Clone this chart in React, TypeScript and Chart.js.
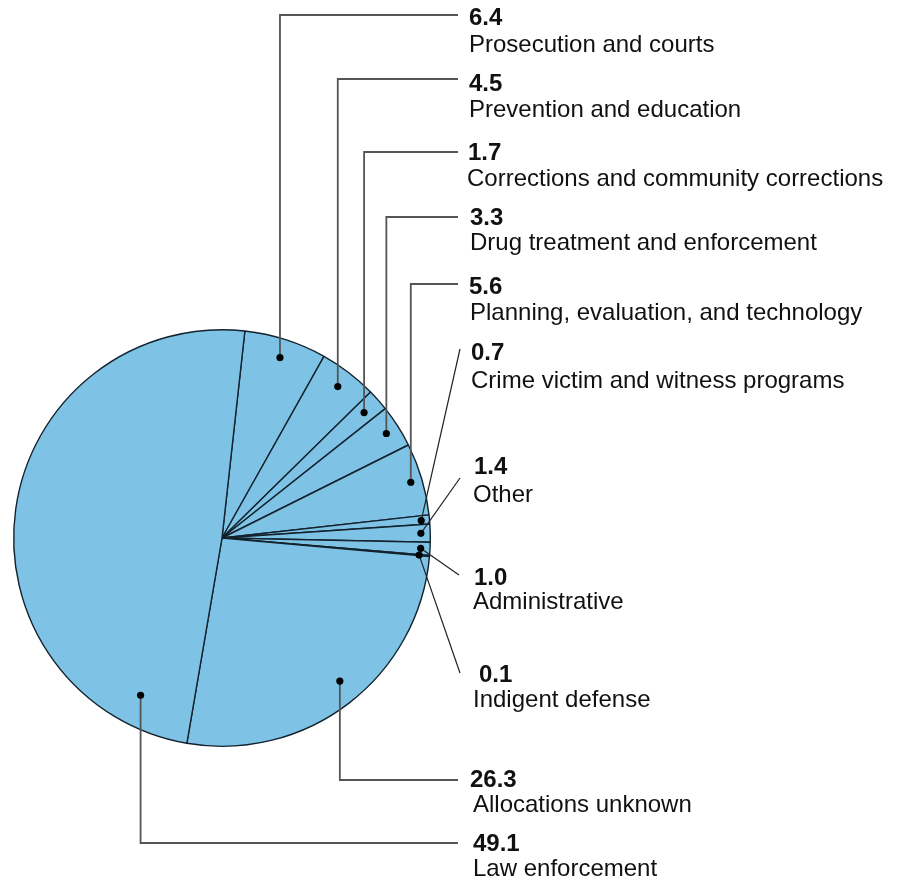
import React, { useEffect, useRef } from "react";
import { Chart, registerables } from "chart.js";

Chart.register(...registerables);

const categories = [
  "Prosecution and courts",
  "Prevention and education",
  "Corrections and community corrections",
  "Drug treatment and enforcement",
  "Planning, evaluation, and technology",
  "Crime victim and witness programs",
  "Other",
  "Administrative",
  "Indigent defense",
  "Allocations unknown",
  "Law enforcement",
];
const values = [6.4, 4.5, 1.7, 3.3, 5.6, 0.7, 1.4, 1.0, 0.1, 26.3, 49.1];
const valueLabels = ["6.4", "4.5", "1.7", "3.3", "5.6", "0.7", "1.4", "1.0", "0.1", "26.3", "49.1"];

// Label layout (positions only)
type Lay = {
  t: number; rf: number; kind: "elbow" | "diag";
  lineY?: number; ex?: number; ey?: number;
  numX: number; numY: number; labX: number; labY: number;
};
const layout: Lay[] = [
  { t: 0.5, rf: 0.91, kind: "elbow", lineY: 15, numX: 469, numY: 25, labX: 469, labY: 52 },
  { t: 0.5, rf: 0.915, kind: "elbow", lineY: 79, numX: 469, numY: 91, labX: 469, labY: 117 },
  { t: 0.5, rf: 0.91, kind: "elbow", lineY: 152, numX: 468, numY: 160, labX: 467, labY: 186 },
  { t: 0.5, rf: 0.935, kind: "elbow", lineY: 217, numX: 470, numY: 225, labX: 470, labY: 250 },
  { t: 0.5, rf: 0.945, kind: "elbow", lineY: 284, numX: 469, numY: 294, labX: 470, labY: 320 },
  { t: 0.55, rf: 0.96, kind: "diag", ex: 460, ey: 349, numX: 471, numY: 360, labX: 471, labY: 388 },
  { t: 0.5, rf: 0.955, kind: "diag", ex: 460, ey: 478, numX: 474, numY: 474, labX: 473, labY: 502 },
  { t: 0.5, rf: 0.955, kind: "diag", ex: 459, ey: 575, numX: 474, numY: 585, labX: 473, labY: 609 },
  { t: 0.5, rf: 0.95, kind: "diag", ex: 460, ey: 673, numX: 479, numY: 682, labX: 473, labY: 707 },
  { t: 0.48, rf: 0.89, kind: "elbow", lineY: 780, numX: 470, numY: 787, labX: 473, labY: 812 },
  { t: 0.1, rf: 0.85, kind: "elbow", lineY: 843, numX: 473, numY: 851, labX: 473, labY: 876 },
];

const FONT = '"Liberation Sans", Arial, Helvetica, sans-serif';

const leaderPlugin = {
  id: "leaders",
  afterDatasetsDraw(chart: any) {
    const ctx = chart.ctx as CanvasRenderingContext2D;
    const meta = chart.getDatasetMeta(0);
    meta.data.forEach((arc: any, i: number) => {
      const lay = layout[i];
      if (!lay) return;
      const p = arc.getProps(["x", "y", "startAngle", "endAngle", "outerRadius"], true);
      const a = p.startAngle + lay.t * (p.endAngle - p.startAngle);
      const r = lay.rf * p.outerRadius;
      const dx = p.x + r * Math.cos(a);
      const dy = p.y + r * Math.sin(a);
      ctx.save();
      ctx.lineCap = "butt";
      if (lay.kind === "elbow") {
        ctx.strokeStyle = "#555555";
        ctx.lineWidth = 1.8;
        ctx.beginPath();
        ctx.moveTo(dx, dy);
        ctx.lineTo(dx, lay.lineY!);
        ctx.lineTo(458, lay.lineY!);
        ctx.stroke();
      } else {
        ctx.strokeStyle = "#222222";
        ctx.lineWidth = 1.2;
        ctx.beginPath();
        ctx.moveTo(dx, dy);
        ctx.lineTo(lay.ex!, lay.ey!);
        ctx.stroke();
      }
      ctx.fillStyle = "#000000";
      ctx.beginPath();
      ctx.arc(dx, dy, 3.6, 0, Math.PI * 2);
      ctx.fill();
      ctx.fillStyle = "#111111";
      ctx.textAlign = "left";
      ctx.textBaseline = "alphabetic";
      ctx.font = `bold 24px ${FONT}`;
      ctx.fillText(valueLabels[i], lay.numX, lay.numY);
      ctx.font = `24px ${FONT}`;
      ctx.fillText(categories[i], lay.labX, lay.labY);
      ctx.restore();
    });
  },
};

export default function App() {
  const ref = useRef<HTMLCanvasElement>(null);
  useEffect(() => {
    if (!ref.current) return;
    const chart = new Chart(ref.current, {
      type: "pie",
      data: {
        labels: categories,
        datasets: [
          {
            data: values,
            backgroundColor: "#7ec3e6",
            borderColor: "#13222d",
            borderWidth: 1.4,
          },
        ],
      },
      options: {
        responsive: false,
        animation: false,
        rotation: 6.3,
        layout: { padding: { left: 13, top: 329, right: 466, bottom: 135 } },
        plugins: {
          legend: { display: false },
          tooltip: { enabled: false },
        },
        events: [],
      },
      plugins: [leaderPlugin],
    });
    return () => chart.destroy();
  }, []);
  return (
    <div style={{ position: "absolute", left: 0, top: 0, width: 897, height: 882, background: "#ffffff" }}>
      <canvas ref={ref} width={897} height={882} style={{ width: 897, height: 882, display: "block" }} />
    </div>
  );
}
